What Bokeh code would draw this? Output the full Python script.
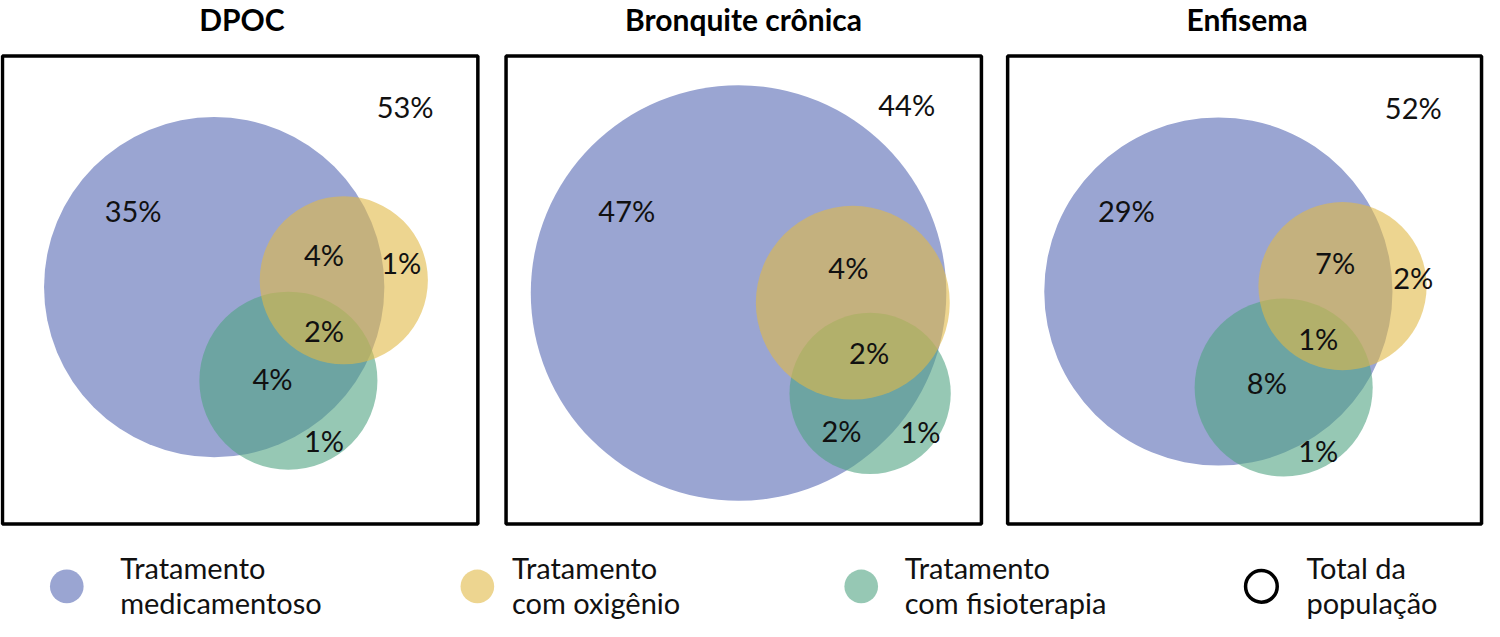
from bokeh.plotting import figure
from bokeh.models import Range1d, ColumnDataSource
from bokeh.core.properties import value
from bokeh.embed import file_html
from bokeh.resources import INLINE

# ---------------- data ----------------
titles = ["DPOC", "Bronquite crônica", "Enfisema"]
# region order: outside all, medication only, medication+oxygen, oxygen only,
#               all three, medication+physio, physio only
dpoc_pct = [53, 35, 4, 1, 2, 4, 1]
bronquite_pct = [44, 47, 4, None, 2, 2, 1]
enfisema_pct = [52, 29, 7, 2, 1, 8, 1]
legend_labels = [["Tratamento", "medicamentoso"],
                 ["Tratamento", "com oxigênio"],
                 ["Tratamento", "com fisioterapia"],
                 ["Total da", "população"]]

# ---------------- layout (reference pixel space) ----------------
box_left = [2, 511, 1018]
box_right = [482.5, 991.5, 1497]
box_top, box_bottom = 57, 537
title_x = [244, 751, 1260]
title_y = 19

blue_geo = [(216, 294, 172), (746, 300, 210), (1231, 298.5, 176)]
yellow_geo = [(347, 287, 85), (861.5, 310, 98), (1356.5, 293, 85)]
green_geo = [(291, 390, 90), (879, 403, 81.5), (1297, 397, 90)]

label_pos = [
    [(409, 108.5), (134, 215.5), (327, 260.5), (405, 268.5), (327, 338), (275, 388), (327, 451)],
    [(916, 107), (633, 215.5), (857, 274), None, (878, 361.5), (850, 441.5), (930, 442)],
    [(1428, 110), (1138, 215.5), (1349, 269), (1428, 284.5), (1332, 347), (1280, 391.5), (1332, 462)],
]

BLUE = "#9AA5D2"
YELLOW = "#E1B946"
GREEN = "#50A382"
ALPHA = 0.6
FONT = "Lato"

p = figure(width=1484, height=621, x_range=Range1d(0, 1500), y_range=Range1d(637, 0),
           output_backend="svg", toolbar_location=None, min_border=0)
p.axis.visible = False
p.grid.visible = False
p.outline_line_color = None
p.background_fill_color = "white"
p.border_fill_color = "white"

# boxes
p.quad(left=box_left, right=box_right, top=[box_top] * 3, bottom=[box_bottom] * 3,
       fill_color=None, line_color="black", line_width=3.5)

# titles
p.text(x=title_x, y=[title_y] * 3, text=titles, text_align="center", text_baseline="middle",
       text_font=value(FONT), text_font_style="bold", text_font_size="30px", text_color="black")

# circles
def circ(geo, color, alpha):
    src = ColumnDataSource(dict(x=[g[0] for g in geo], y=[g[1] for g in geo], r=[g[2] for g in geo]))
    p.circle(x="x", y="y", radius="r", source=src, fill_color=color, fill_alpha=alpha, line_color=None)

circ(blue_geo, BLUE, 1.0)
circ(green_geo, GREEN, ALPHA)
circ(yellow_geo, YELLOW, ALPHA)

# percentage labels
lx, ly, lt = [], [], []
for vals, poss in zip([dpoc_pct, bronquite_pct, enfisema_pct], label_pos):
    for v, pos in zip(vals, poss):
        if v is None or pos is None:
            continue
        lx.append(pos[0])
        ly.append(pos[1])
        lt.append(f"{v}%")
p.text(x=lx, y=ly, text=lt, text_align="center", text_baseline="middle",
       text_font=value(FONT), text_font_size="29px", text_color="#111111")

# legend
leg_cx = [67, 482, 870, 1274.5]
leg_tx = [121, 517, 914, 1320]
leg_cy = 601
p.circle(x=leg_cx[0:1], y=[leg_cy], radius=17, fill_color=BLUE, fill_alpha=1.0, line_color=None)
p.circle(x=leg_cx[1:3], y=[leg_cy] * 2, radius=17, fill_color=[YELLOW, GREEN], fill_alpha=ALPHA,
         line_color=None)
p.circle(x=leg_cx[3:4], y=[leg_cy], radius=16, fill_color=None, line_color="black", line_width=3.5)

for tx, lines in zip(leg_tx, legend_labels):
    p.text(x=[tx, tx], y=[582, 618], text=lines, text_align="left", text_baseline="middle",
           text_font=value(FONT), text_font_size="29px", text_color="#111111")

open("out.html", "w").write(file_html(p, INLINE))
